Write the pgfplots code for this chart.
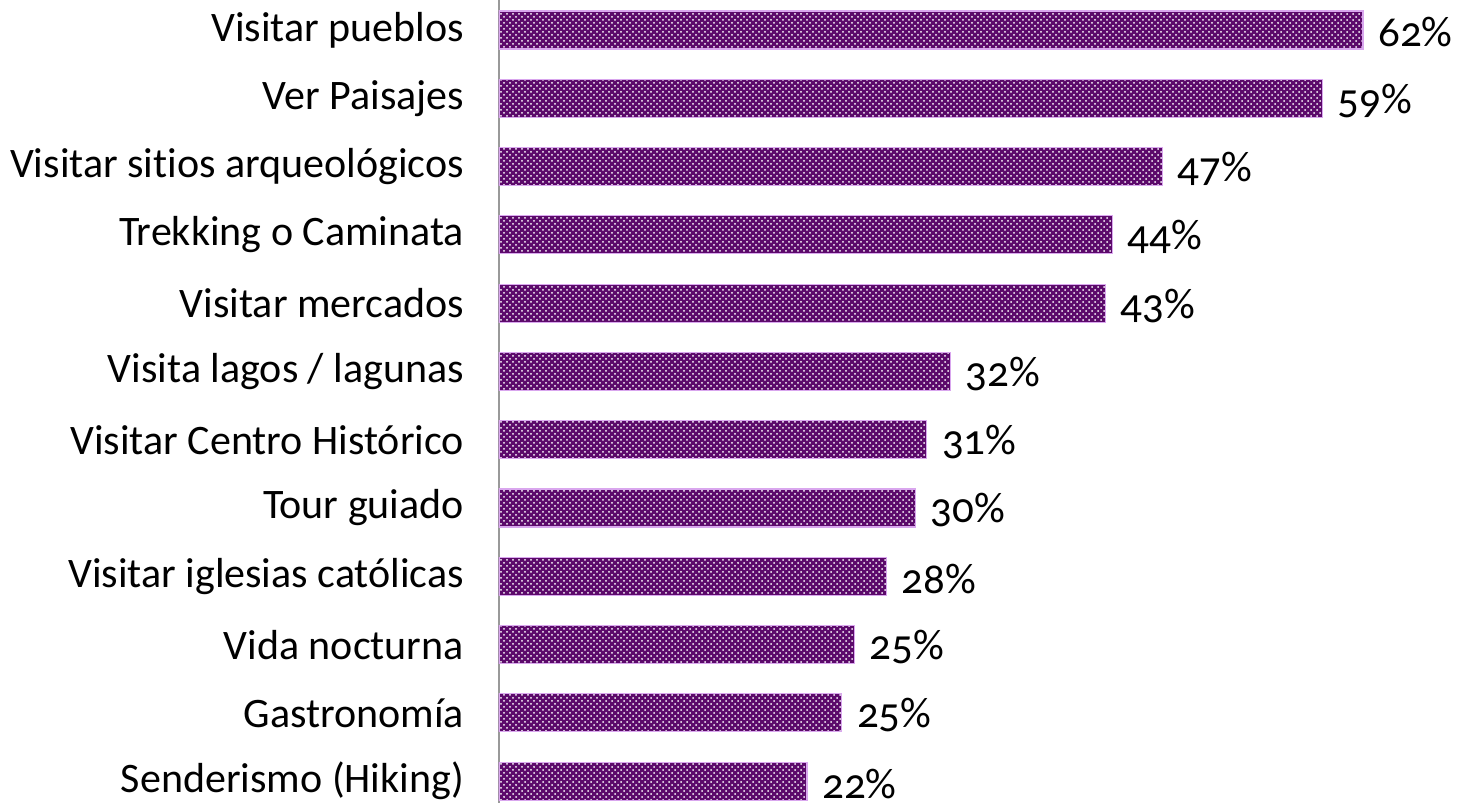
\documentclass[border=0pt]{standalone}
\usepackage{pgfplots}
\pgfplotsset{compat=1.18}
\usetikzlibrary{patterns}
\usepackage{fontspec}
\setmainfont{Carlito}[Ligatures=NoCommon]
\newfontfamily\valfont[Numbers=OldStyle]{Carlito}
\definecolor{barpurple}{HTML}{5C0A6B}
\definecolor{baredge}{HTML}{D9A6EE}

\begin{document}
\begin{tikzpicture}
\begin{axis}[
    at={(0,0)}, anchor=south west,
    scale only axis,
    width=479.5pt, height=401.5pt,
    xbar, bar width=19pt,
    xmin=0, xmax=68.82,
    ymin=-0.44, ymax=11.32,
    y dir=reverse,
    axis x line=none,
    axis y line*=left,
    y axis line style={draw=gray!80, line width=0.8pt},
    ytick=data,
    major tick length=0pt,
    yticklabels={Visitar pueblos, Ver Paisajes, Visitar sitios arqueológicos,
        Trekking o Caminata, Visitar mercados, Visita lagos / lagunas,
        Visitar Centro Histórico, Tour guiado, Visitar iglesias católicas,
        Vida nocturna, Gastronomía, Senderismo (Hiking)},
    yticklabel style={font=\fontsize{21}{24}\selectfont, xshift=-14pt},
    point meta=explicit symbolic,
    nodes near coords={\valfont\pgfplotspointmeta\%},
    nodes near coords style={font=\fontsize{21.5}{24}\selectfont, anchor=west,
        xshift=4pt, yshift=-1.2pt},
]
    \addplot[draw=baredge, line width=0.6pt, fill=barpurple,
        postaction={pattern=crosshatch dots, pattern color=white}]
        coordinates {
            (62.0,0) [62] (59.1,1) [59] (47.6,2) [47] (44.0,3) [44]
            (43.5,4) [43] (32.4,5) [32] (30.7,6) [31] (29.9,7) [30]
            (27.8,8) [28] (25.5,9) [25] (24.6,10) [25] (22.1,11) [22]
        };
\end{axis}
\pgfresetboundingbox
\path[use as bounding box] (-249.5pt,0) rectangle (479.5pt,401.5pt);
\end{tikzpicture}
\end{document}
